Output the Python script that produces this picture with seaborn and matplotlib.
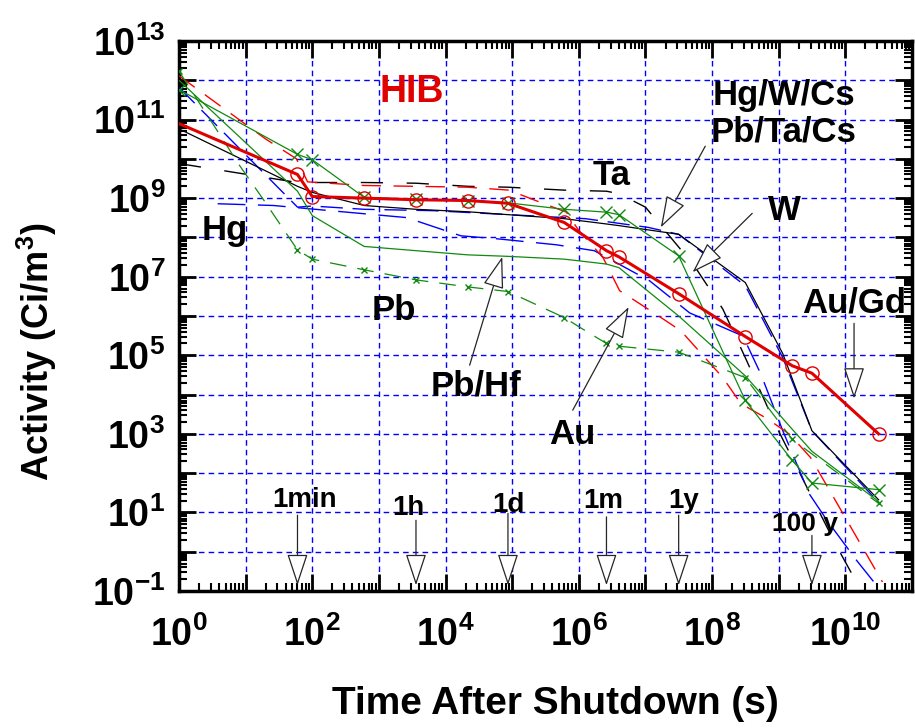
import matplotlib
matplotlib.use("Agg")
import matplotlib.pyplot as plt
import seaborn as sns
from matplotlib.ticker import FixedLocator, FixedFormatter, LogLocator, NullFormatter

############# values ##############################################
# decay times in seconds (1s, 1min, 100s, 10min, 1h, 6h, 1d, 1w, 1mo, 6w, 1y, 10y, 50y, 100y, 1000y)
t_std = [1, 60, 100, 600, 3600, 21600, 86400, 6.05e5, 2.6e6, 4.0e6, 3.15e7, 3.15e8, 1.6e9, 3.15e9, 3.15e10]

# HIB (thick red, open circles)
hib_act = [7.9e10, 4.0e9, 1.1e9, 1.0e9, 9.1e8, 8.7e8, 7.4e8, 2.4e8, 4.6e7, 3.2e7, 3.7e6, 3.0e5, 5.4e4, 3.5e4, 1.0e3]

# green solid with big x
hg_w_cs_act = [5.8e11, 1.3e10, 9.5e9, 1.05e9, 9.3e8, 8.5e8, 7.6e8, 5.2e8, 4.4e8, 3.8e8, 3.4e7, 7.1e3, 2.1e2, 56, 38]

# green solid, no markers (Pb/Hf)
pb_hf_act = [1.0e12, 1.5e9, 3.6e8, 5.9e7, 4.6e7, 3.6e7, 3.3e7, 2.8e7, 2.1e7, 1.7e7, 1.0e6, 3.0e4, 1.3e3, 3.6e2, 19]

# green dashed with small x (Pb / Au)
t_pb = [1, 8.1, 18, 60, 100, 600, 3600, 21600, 86400, 6.05e5, 1.26e6, 2.6e6, 4.0e6, 3.15e7, 3.15e8, 1.6e9, 3.15e10]
pb_act = [1.7e12, 6.8e9, 9.8e8, 4.8e7, 2.8e7, 1.5e7, 8.3e6, 5.5e6, 4.2e6, 9.1e5, 4.2e5, 2.0e5, 1.7e5, 1.2e5, 2.7e4, 7.2e2, 17]
pb_marks = [0, 3, 4, 5, 6, 7, 8, 9, 11, 12, 13, 14, 15, 16]

# black solid (Hg/W/Cs)
t_black = [1, 60, 100, 600, 3600, 21600, 86400, 6.05e5, 2.6e6, 4.0e6, 3.15e7, 3.15e8, 1.15e9, 3.15e9, 3.15e10]
black_act = [5.8e10, 2.0e9, 1.4e9, 6.5e8, 5.2e8, 4.5e8, 3.8e8, 3.0e8, 2.2e8, 2.0e8, 1.2e8, 7.1e6, 1.1e5, 1.2e3, 21]

# black dashed (Ta)
t_ta = [1, 60, 600, 3600, 21600, 86400, 6.05e5, 2.6e6, 4.0e6, 1.0e7, 5.4e7, 1.45e8, 3.15e8, 9.1e8, 7.2e9, 3.15e10]
ta_act = [7.6e9, 2.5e9, 2.5e9, 2.4e9, 2.0e9, 1.9e9, 1.6e9, 1.5e9, 1.3e9, 5.9e8, 1.9e7, 1.5e6, 8.7e4, 1.6e3, 1.5, 0.016]

# blue dashed (Pb/Ta/Cs)
t_blue1 = [1, 60, 100, 600, 6.5e3, 1.26e6, 1.1e7, 3.15e7, 3.15e8, 1.15e9, 3.15e9, 3.15e10]
blue1_act = [6.6e11, 5.9e8, 6.3e8, 5.2e8, 4.8e8, 3.0e8, 1.8e8, 1.2e8, 5.9e6, 8.7e4, 1.2e3, 18]

# blue dashed (W)
t_blue2 = [3.8, 26, 2.6e3, 1.7e4, 6.5e4, 4.6e5, 1.7e6, 1.15e7, 4.6e7, 2.9e8, 5.4e8, 1.15e9, 2.9e9, 5.4e9, 1.5e10, 3.15e10]
blue2_act = [7.2e8, 6.5e8, 3.2e8, 1.1e8, 9.1e7, 6.5e7, 4.6e7, 7.9e6, 1.2e6, 3.1e5, 3.3e4, 1.2e3, 29, 6.0, 0.58, 0.12]

# red dashed (Au)
t_au = [1, 20, 58, 85, 600, 2.14e4, 8.9e4, 2.6e5, 6.5e5, 1.0e6, 2.3e6, 4.1e6, 1.45e7, 3.4e7, 1.45e8,
        2.7e8, 6.8e8, 1.45e9, 3.0e9, 1.2e10, 3.6e10]
au_act = [1.3e12, 3.2e10, 1.0e10, 2.6e9, 2.1e9, 1.9e9, 1.6e9, 7.9e8, 4.4e8, 1.5e8, 3.1e7, 4.4e6, 1.1e6, 4.2e5, 2.7e4,
          5.9e3, 2.4e3, 9.8e2, 2.5e2, 4.3, 0.17]

# tick labels
x_ticks = [1, 1e1, 1e2, 1e3, 1e4, 1e5, 1e6, 1e7, 1e8, 1e9, 1e10, 1e11]
x_tick_labels = ['$10^{0}$', '', '$10^{2}$', '', '$10^{4}$', '', '$10^{6}$', '', '$10^{8}$', '', '$10^{10}$', '']
y_ticks = [1e-1, 1, 1e1, 1e2, 1e3, 1e4, 1e5, 1e6, 1e7, 1e8, 1e9, 1e10, 1e11, 1e12, 1e13]
y_tick_labels = ['$10^{-1}$', '', '$10^{1}$', '', '$10^{3}$', '', '$10^{5}$', '', '$10^{7}$', '', '$10^{9}$', '',
                 '$10^{11}$', '', '$10^{13}$']

# material labels: text, x, y, fontsize, colour
labels = [('HIB', 3.1e3, 2.8e11, 27, '#e00000'),
          ('Hg', 4.8, 8.5e7, 25, 'black'),
          ('Pb', 1.7e3, 7.8e5, 25, 'black'),
          ('Pb/Hf', 2.9e4, 9.3e3, 25, 'black'),
          ('Au', 8.1e5, 5.5e2, 25, 'black'),
          ('Ta', 3.1e6, 2.2e9, 25, 'black'),
          ('Hg/W/Cs', 1.2e9, 2.3e11, 25, 'black'),
          ('Pb/Ta/Cs', 1.2e9, 2.7e10, 25, 'black'),
          ('W', 1.2e9, 2.8e8, 25, 'black'),
          ('Au/Gd', 1.35e10, 1.2e6, 25, 'black'),
          ('1min', 76, 14, 20, 'black'),
          ('1h', 2.8e3, 8.5, 20, 'black'),
          ('1d', 8.9e4, 10, 20, 'black'),
          ('1m', 2.3e6, 13, 20, 'black'),
          ('1y', 3.7e7, 13, 20, 'black'),
          ('100 y', 2.5e9, 3.3, 19, 'black')]

# arrows: (tail x, tail y) -> (head x, head y)
arrows = [((2.3e4, 5.6e4), (7.1e4, 3.2e7)),
          ((8.1e5, 4.0e3), (5.6e6, 1.7e6)),
          ((7.9e7, 2.1e10), (1.7e7, 1.8e8)),
          ((4.0e8, 4.1e8), (5.1e7, 1.3e7)),
          ((1.35e10, 6.5e5), (1.35e10, 7.9e3)),
          ((60, 8.5), (60, 0.14)),
          ((3600, 6.3), (3600, 0.14)),
          ((86400, 9.5), (86400, 0.14)),
          ((2.6e6, 7.7), (2.6e6, 0.14)),
          ((3.15e7, 8.5), (3.15e7, 0.14)),
          ((3.15e9, 2.6), (3.15e9, 0.14))]
####################################################################

plt.rcParams['font.family'] = ['Liberation Sans', 'DejaVu Sans']
plt.rcParams['font.weight'] = 'bold'
plt.rcParams['mathtext.fontset'] = 'custom'
plt.rcParams['mathtext.rm'] = 'Liberation Sans:bold'
plt.rcParams['mathtext.it'] = 'Liberation Sans:bold'
plt.rcParams['mathtext.bf'] = 'Liberation Sans:bold'
plt.rcParams['mathtext.sf'] = 'Liberation Sans:bold'
plt.rcParams['lines.scale_dashes'] = False

fig = plt.figure(figsize=(9.15, 7.28), dpi=100)
ax = fig.add_axes([179 / 915, 137 / 728, 733 / 915, 550 / 728])
ax.set_xscale('log')
ax.set_yscale('log')

green = '#108a10'


def draw(t, a, color, lw, ls, marker=None, ms=0, every=None, z=3):
    sns.lineplot(x=t, y=a, ax=ax, color=color, linewidth=lw, linestyle=ls, marker=marker,
                 markersize=ms, markevery=every, markeredgecolor=color, markerfacecolor='none',
                 markeredgewidth=1.0, sort=False, estimator=None, zorder=z, legend=False)


draw(t_ta, ta_act, 'black', 1.0, (0, (16, 17)))
draw(t_blue1, blue1_act, 'blue', 1.0, (0, (16, 7)))
draw(t_blue2, blue2_act, 'blue', 1.0, (0, (20, 9)))
draw(t_au, au_act, 'red', 1.0, (0, (14, 9)))
draw(t_black, black_act, 'black', 0.9, '-')
draw(t_std, pb_hf_act, green, 0.9, '-')
draw(t_pb, pb_act, green, 0.9, (0, (12, 8)), marker='x', ms=4.5, every=pb_marks)
draw(t_std, hg_w_cs_act, green, 0.9, '-', marker='x', ms=9)
draw(t_std, hib_act, '#e00000', 2.2, '-', marker='o', ms=9.5, every=list(range(1, len(t_std))), z=5)

ax.set_xlim(1, 1e11)
ax.set_ylim(1e-1, 1e13)

# ticks and grid
ax.xaxis.set_major_locator(FixedLocator(x_ticks))
ax.xaxis.set_major_formatter(FixedFormatter(x_tick_labels))
ax.yaxis.set_major_locator(FixedLocator(y_ticks))
ax.yaxis.set_major_formatter(FixedFormatter(y_tick_labels))
for axis in (ax.xaxis, ax.yaxis):
    axis.set_minor_locator(LogLocator(base=10, subs=range(2, 10), numticks=100))
    axis.set_minor_formatter(NullFormatter())
ax.tick_params(which='major', direction='in', length=12, width=2, top=True, right=True,
               labelsize=27, colors='black')
ax.tick_params(which='minor', direction='in', length=6, width=1.5, top=True, right=True)
ax.tick_params(axis='x', pad=18)
ax.tick_params(axis='y', pad=10)
ax.grid(True, which='major', color='blue', linestyle=(0, (4, 3)), linewidth=1.0)
ax.set_axisbelow(True)
for s in ax.spines.values():
    s.set_linewidth(2.5)
    s.set_color('black')

ax.set_xlabel('Time After Shutdown (s)', fontsize=28, fontweight='bold')
ax.set_ylabel('Activity (Ci/m$^3$)', fontsize=26, fontweight='bold')
ax.xaxis.set_label_coords(0.514, -0.172)
ax.yaxis.set_label_coords(-0.164, 0.435)

# labels and arrows
for txt, x, y, size, col in labels:
    ax.text(x, y, txt, fontsize=size, color=col, fontweight='bold', ha='center', va='baseline', zorder=6)
for tail, head in arrows:
    ax.annotate('', xy=head, xytext=tail, zorder=6,
                arrowprops=dict(arrowstyle='-|>,head_length=1.0,head_width=0.33', mutation_scale=20,
                                fc='white', ec='0.15', lw=0.9, shrinkA=0, shrinkB=0))

plt.savefig('out.png', dpi=100)
